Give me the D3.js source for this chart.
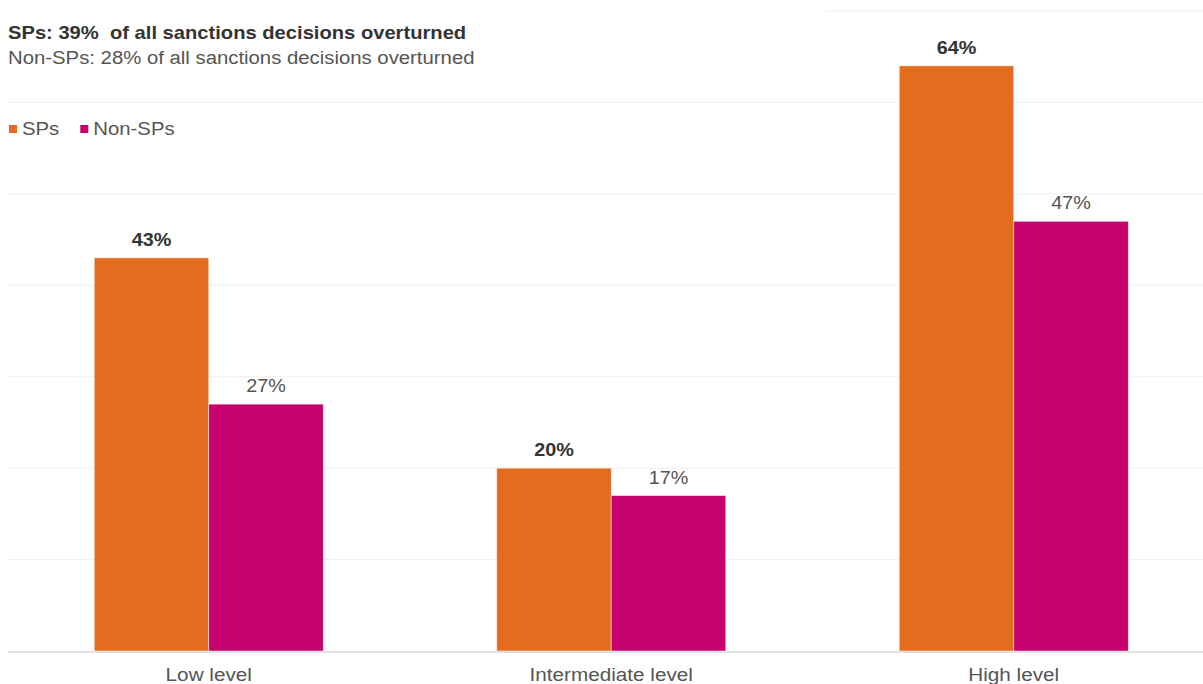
<!DOCTYPE html>
<html>
<head>
<meta charset="utf-8">
<script src="https://cdn.jsdelivr.net/npm/d3@7/dist/d3.min.js"></script>
<style>
  html, body { margin: 0; padding: 0; background: #fff; }
  svg { display: block; font-family: "Liberation Sans", Arial, sans-serif; }
</style>
</head>
<body>
<svg id="chart" width="1203" height="684"></svg>
<script>
const categories = ["Low level", "Intermediate level", "High level"];
const seriesNames = ["SPs", "Non-SPs"];
const spValues = [43, 20, 64];
const nonSpValues = [27, 17, 47];
const gridTicks = [0, 10, 20, 30, 40, 50, 60, 70];
const titleText = "SPs: 39%  of all sanctions decisions overturned";
const subtitleText = "Non-SPs: 28% of all sanctions decisions overturned";
const colors = ["#E36C1E", "#C6006C"];

const svg = d3.select("#chart");
const W = 1203, H = 684;
const plotTop = 11, plotBottom = 651;

// horizontal stretch of text around its anchor x
function stretch(sel, s, anchorFn) {
  sel.attr("transform", function(d, i) {
    const ax = anchorFn ? anchorFn.call(this, d, i) : +d3.select(this).attr("x");
    return `translate(${ax},0) scale(${s},1) translate(${-ax},0)`;
  });
}

const x0 = d3.scaleBand().domain(categories).range([7.5, 1215]).paddingInner(0.431).paddingOuter(0.2155);
const x1 = d3.scaleBand().domain(seriesNames).range([0, x0.bandwidth()]);
const y = d3.scaleLinear().domain([0, 70]).range([plotBottom, plotTop]);

// gridlines
svg.append("g").selectAll("line").data(gridTicks.filter(t => t > 0)).join("line")
  .attr("x1", 8).attr("x2", W)
  .attr("y1", d => y(d)).attr("y2", d => y(d))
  .attr("stroke", "#f0f0f0").attr("stroke-width", 1);

// white title block covering the top gridline
svg.append("rect").attr("x", 0).attr("y", 0).attr("width", 826).attr("height", 80).attr("fill", "#fff");

// title
svg.append("text").attr("x", 8).attr("y", 39).text(titleText)
  .style("white-space", "pre")
  .attr("font-size", 18).attr("font-weight", "bold").attr("fill", "#333")
  .call(stretch, 1.12);
svg.append("text").attr("x", 8).attr("y", 64).text(subtitleText)
  .attr("font-size", 18).attr("fill", "#555")
  .call(stretch, 1.13);

// legend
const legend = svg.append("g").attr("transform", "translate(8,124)");
let lx = 0;
seriesNames.forEach((s, i) => {
  const g = legend.append("g").attr("transform", `translate(${lx},0)`);
  g.append("rect").attr("x", 1).attr("y", 1).attr("width", 8).attr("height", 8).attr("fill", colors[i]);
  const t = g.append("text").attr("x", 14).attr("y", 11).text(s)
    .attr("font-size", 18).attr("fill", "#555")
    .call(stretch, 1.13);
  lx += 14 + t.node().getComputedTextLength() * 1.13 + 20;
});

// bars
const groups = svg.append("g").selectAll("g").data(categories).join("g")
  .attr("transform", d => `translate(${x0(d)},0)`);

const rows = categories.map((c, i) => [
  { key: "SPs", value: spValues[i] },
  { key: "Non-SPs", value: nonSpValues[i] }
]);

groups.each(function(c, i) {
  const g = d3.select(this);
  g.selectAll("rect").data(rows[i]).join("rect")
    .attr("x", d => x1(d.key))
    .attr("y", d => y(d.value))
    .attr("width", x1.bandwidth())
    .attr("height", d => y(0) - y(d.value))
    .attr("fill", (d, j) => colors[j])
    .attr("stroke", "#fff").attr("stroke-opacity", 0.6).attr("stroke-width", 0.8);
  g.selectAll("text").data(rows[i]).join("text")
    .attr("x", d => x1(d.key) + x1.bandwidth() / 2)
    .attr("y", d => y(d.value) - 12)
    .attr("text-anchor", "middle")
    .attr("font-size", 18)
    .attr("font-weight", (d, j) => j === 0 ? "bold" : "normal")
    .attr("fill", (d, j) => j === 0 ? "#333" : "#555")
    .text(d => d.value + "%")
    .call(stretch, 1.1);
});

// baseline axis
svg.append("line").attr("x1", 8).attr("x2", W).attr("y1", plotBottom + 1).attr("y2", plotBottom + 1)
  .attr("stroke", "#e2e2e2").attr("stroke-width", 2);

const xAxis = svg.append("g").attr("transform", `translate(0,${plotBottom})`)
  .call(d3.axisBottom(x0).tickSize(0).tickPadding(0));
xAxis.select(".domain").remove();
xAxis.selectAll("text").attr("font-family", "Liberation Sans, Arial, sans-serif")
  .attr("font-size", 18.5).attr("fill", "#555").attr("dy", "1.6em")
  .call(stretch, 1.12, () => 0);
</script>
</body>
</html>
